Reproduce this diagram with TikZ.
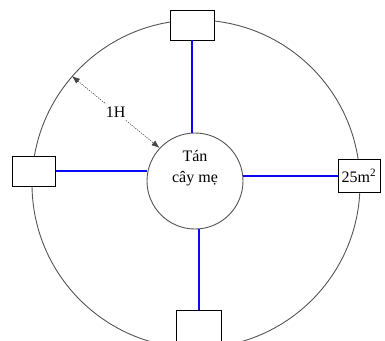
\documentclass[tikz,border=0pt]{standalone}
\usepackage{fontspec}
\setmainfont{Liberation Serif}
\usepackage{xcolor}
\definecolor{cRing}{HTML}{555555}
\definecolor{cSpoke}{HTML}{0A0AF5}
\definecolor{cDim}{HTML}{444444}
\usepackage{tikz}
\usetikzlibrary{positioning,arrows.meta,calc}
\tikzset{
  node-ring/.style={draw=cRing,line width=0.9pt,circle,inner sep=0pt},
  node-box/.style={draw=black,line width=0.9pt,fill=white,inner sep=0pt,
    align=center,font=\fontsize{16}{19}\selectfont},
  node-text/.style={align=center,font=\fontsize{16}{21}\selectfont},
  spoke/.style={draw=cSpoke,line width=1.6pt},
  dim-arrow/.style={{Latex[length=8pt,width=6pt]}-{Latex[length=8pt,width=6pt]},
    draw=cDim,line width=0.6pt,dash pattern=on 1.2pt off 1.2pt},
}

\begin{document}
\begin{tikzpicture}[x=1pt,y=-1pt]
  \clip (0,0) rectangle (385,340);
  \useasboundingbox (0,0) rectangle (385,340);
  % vong ngoai va tan cay me
  \node[node-ring,minimum size=328pt] (ring) at (196,184) {};
  \node[node-ring,fill=white,minimum size=96pt] (cay) at (195,181) {};
  \node[node-text] (cayText) at (195,168) {Tán\\cây mẹ};
  % cac o
  \node[node-box,minimum width=44pt,minimum height=30pt] (boxN) at (192,25) {};
  \node[node-box,minimum width=43pt,minimum height=30pt] (boxW) at (34,171) {};
  \node[node-box,minimum width=42pt,minimum height=33pt] (boxE) at (359,176) {25m\textsuperscript{2}};
  \node[node-box,minimum width=45pt,minimum height=34pt] (boxS) at (199,327) {};
  % cac nhanh
  \draw[spoke] (boxN.south) -- (boxN.south |- cay.north);
  \draw[spoke] (boxW.east) -- (boxW.east -| cay.west);
  \draw[spoke] (boxE.west) -- (boxE.west -| cay.east);
  \draw[spoke] (boxS.north) -- (boxS.north |- cay.south);
  % khoang cach
  \draw[dim-arrow] (ring.139) -- node[fill=white,inner sep=3pt,node-text]{1H} (cay.137);
\end{tikzpicture}
\end{document}
